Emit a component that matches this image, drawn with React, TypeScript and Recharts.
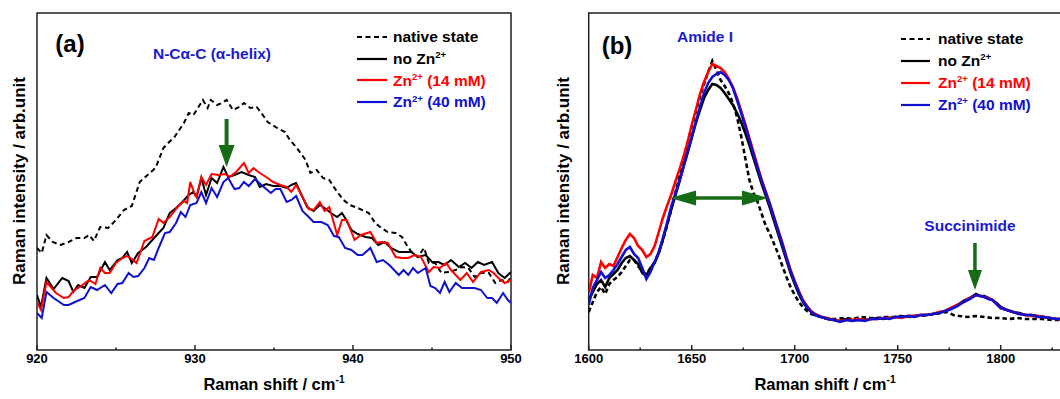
import React from 'react';
import { LineChart, Line, XAxis, YAxis, ReferenceArea, ReferenceDot, ReferenceLine } from 'recharts';

// ---------- Panel (a): N-Cα-C region ----------
const A_TICKS = [920, 925, 930, 935, 940, 945, 950];
const A_LABELED = [920, 930, 940, 950];

const nativeA: [number, number][] = [
  [920, 102], [920.3, 97], [920.6, 115], [921, 108], [921.5, 105], [922, 108], [922.5, 112], [923, 112],
  [923.3, 115], [923.6, 109], [924, 123], [924.5, 122], [925, 130], [925.5, 140], [926, 144], [926.5, 168],
  [927, 175], [927.5, 182], [928, 202], [928.3, 207], [928.7, 213], [929, 220], [929.3, 227], [929.6, 237],
  [929.9, 235], [930.1, 240], [930.5, 250], [930.8, 242], [931, 250], [931.4, 245], [931.7, 247], [932, 250],
  [932.4, 240], [932.8, 243], [933.1, 247], [933.5, 242], [933.9, 243], [934.2, 237], [934.6, 228], [935.2, 222],
  [935.7, 218], [936, 210], [936.4, 203], [937, 190], [937.3, 177], [937.7, 180], [938.1, 172], [938.5, 170],
  [939, 158], [939.4, 150], [939.8, 145], [940.3, 142], [941, 137], [941.4, 127], [941.8, 122], [942.2, 118],
  [942.7, 117], [943.1, 113], [943.4, 105], [943.7, 98], [944.1, 93], [944.5, 102], [944.8, 87], [945.2, 87],
  [945.6, 77], [946, 78], [946.5, 80], [946.9, 83], [947.3, 82], [947.7, 73], [948.1, 77], [948.6, 77],
  [949, 67], [949.4, 70], [949.8, 68], [950, 73],
];

const noZnA: [number, number][] = [
  [920, 55], [920.25, 43], [920.6, 72], [921.05, 61], [921.6, 72], [922, 69], [922.3, 58], [922.6, 65],
  [923, 62], [923.4, 73], [923.8, 73], [924.3, 88], [924.6, 80], [925.1, 90], [925.4, 92], [925.7, 98],
  [926, 87], [926.4, 97], [926.9, 103], [927.3, 110], [927.7, 117], [928, 122], [928.4, 137], [928.8, 142],
  [929.2, 148], [929.6, 155], [929.9, 158], [930.1, 153], [930.4, 172], [930.7, 155], [931.05, 172], [931.4, 167],
  [931.8, 183], [932.1, 173], [932.5, 175], [932.95, 178], [933.4, 175], [933.8, 173], [934.1, 163], [934.5, 166],
  [934.95, 164], [935.4, 164], [935.8, 162], [936.1, 165], [936.4, 167], [936.8, 153], [937.1, 143], [937.5, 139],
  [937.9, 145], [938.2, 142], [938.6, 137], [939, 133], [939.3, 137], [939.5, 132], [939.9, 120], [940.3, 116],
  [940.8, 113], [941.2, 112], [941.6, 105], [942, 108], [942.4, 102], [942.9, 98], [943.3, 98], [943.7, 98],
  [944.1, 93], [944.6, 95], [945, 88], [945.4, 88], [945.8, 85], [946.2, 90], [946.7, 83], [947.1, 87],
  [947.5, 82], [947.9, 88], [948.3, 85], [948.8, 88], [949.2, 77], [949.6, 72], [950, 78],
];

const zn14A: [number, number][] = [
  [920, 48], [920.25, 40], [920.6, 68], [921.2, 57], [921.7, 52], [922, 53], [922.3, 59], [922.7, 63],
  [923.3, 70], [923.7, 66], [924, 82], [924.3, 77], [924.6, 77], [925, 87], [925.4, 92], [925.7, 94],
  [926, 91], [926.3, 87], [926.8, 109], [927.3, 113], [927.7, 131], [928, 127], [928.4, 133], [928.9, 143],
  [929.3, 149], [929.5, 147], [929.7, 168], [930, 155], [930.1, 153], [930.4, 173], [930.7, 165], [931.05, 176],
  [931.5, 175], [931.9, 176], [932.2, 173], [932.6, 178], [933.1, 187], [933.4, 177], [933.7, 182], [934.1, 177],
  [934.5, 173], [934.95, 168], [935.4, 165], [935.8, 163], [936.1, 158], [936.4, 165], [936.8, 153], [937.2, 141],
  [937.5, 140], [937.9, 148], [938.2, 139], [938.5, 143], [939, 115], [939.3, 130], [939.6, 130], [940.1, 110],
  [940.5, 115], [941.1, 118], [941.5, 107], [941.8, 108], [942.2, 107], [942.7, 93], [943.1, 92], [943.5, 92],
  [943.9, 95], [944.3, 93], [944.8, 78], [945.1, 83], [945.5, 82], [945.9, 87], [946.2, 80], [946.8, 70],
  [947.2, 77], [947.6, 68], [948.1, 78], [948.6, 80], [948.9, 77], [949.2, 72], [949.6, 67], [950, 70],
];

const zn40A: [number, number][] = [
  [920, 37], [920.3, 32], [920.6, 58], [921.05, 52], [921.7, 45], [922, 45], [922.4, 48], [923, 52],
  [923.4, 63], [923.8, 60], [924.3, 65], [924.7, 57], [925.1, 66], [925.4, 67], [925.8, 77], [926.1, 73],
  [926.4, 74], [926.8, 82], [927.1, 92], [927.4, 90], [927.7, 102], [928.1, 117], [928.4, 118], [928.8, 127],
  [929.1, 138], [929.4, 133], [929.7, 145], [930.1, 147], [930.4, 158], [930.7, 147], [931.05, 162], [931.4, 153],
  [931.8, 168], [932.1, 172], [932.5, 161], [932.8, 162], [933.1, 168], [933.4, 164], [933.8, 171], [934.2, 165],
  [934.8, 157], [935.1, 161], [935.4, 161], [935.8, 148], [936.1, 150], [936.4, 154], [936.8, 139], [937.2, 133],
  [937.5, 128], [938, 128], [938.4, 125], [938.8, 114], [939.1, 113], [939.5, 102], [939.9, 100], [940.3, 95],
  [940.6, 95], [941.1, 102], [941.5, 88], [941.9, 90], [942.3, 85], [942.9, 75], [943.2, 80], [943.5, 75],
  [943.8, 82], [944.1, 77], [944.6, 82], [944.9, 64], [945.2, 62], [945.5, 57], [945.8, 68], [946.1, 58],
  [946.5, 67], [946.9, 62], [947.3, 62], [947.7, 62], [948.1, 60], [948.5, 52], [948.8, 52], [949.1, 47],
  [949.5, 57], [949.8, 50], [950, 47],
];

// ---------- Panel (b): Amide I / succinimide region ----------
const B_TICKS = [1600, 1625, 1650, 1675, 1700, 1725, 1750, 1775, 1800, 1825];
const B_LABELED = [1600, 1650, 1700, 1750, 1800];

const nativeB: [number, number][] = [
  [1600, 38], [1602, 48], [1604, 58], [1606, 63], [1608, 56], [1610, 66], [1612, 70], [1614, 73], [1616, 78],
  [1618, 84], [1620, 90], [1622, 90], [1624, 84], [1626, 78], [1628, 76], [1630, 82], [1632, 88], [1634, 97],
  [1636, 110], [1638, 124], [1640, 140], [1642, 157], [1644, 173], [1646, 190], [1648, 207], [1650, 223],
  [1652, 238], [1654, 253], [1656, 266], [1658, 278], [1660, 289], [1662, 280], [1664, 270], [1666, 264],
  [1668, 257], [1670, 247], [1672, 233], [1674, 214], [1676, 192], [1678, 170], [1680, 157], [1682, 148],
  [1684, 136], [1686, 124], [1688, 116], [1690, 106], [1692, 96], [1694, 84], [1696, 73], [1698, 63],
  [1700, 55], [1702, 48], [1704, 43], [1706, 39], [1708, 36], [1711, 34], [1714, 32], [1717, 31], [1720, 31],
  [1724, 32], [1728, 31], [1732, 33], [1736, 32], [1740, 32], [1744, 33], [1748, 33], [1752, 34], [1756, 33],
  [1760, 34], [1764, 35], [1768, 36], [1771, 37], [1774, 38], [1777, 35], [1780, 34], [1784, 33], [1788, 34],
  [1792, 33], [1796, 32], [1800, 32], [1804, 31], [1808, 32], [1812, 31], [1816, 31], [1820, 31], [1825, 30],
  [1830, 30],
];

const noZnB: [number, number][] = [
  [1600, 50], [1602, 58], [1604, 66], [1606, 70], [1608, 63], [1610, 72], [1612, 76], [1614, 80], [1616, 87],
  [1618, 92], [1620, 94], [1622, 90], [1624, 86], [1626, 77], [1628, 74], [1630, 82], [1632, 87], [1634, 97],
  [1636, 110], [1638, 125], [1640, 140], [1642, 154], [1644, 168], [1646, 183], [1648, 197], [1650, 212],
  [1652, 227], [1654, 240], [1656, 252], [1658, 260], [1660, 266], [1662, 265], [1664, 262], [1666, 257],
  [1668, 251], [1670, 245], [1672, 237], [1674, 228], [1676, 217], [1678, 205], [1680, 192], [1682, 179],
  [1684, 166], [1686, 154], [1688, 142], [1690, 129], [1692, 116], [1694, 103], [1696, 90], [1698, 77],
  [1700, 66], [1702, 56], [1704, 48], [1706, 42], [1708, 38], [1710, 35], [1713, 33], [1716, 31], [1719, 30],
  [1722, 29], [1725, 31], [1728, 30], [1731, 30], [1734, 30], [1737, 31], [1740, 32], [1743, 31], [1746, 32],
  [1749, 33], [1752, 33], [1755, 34], [1758, 34], [1761, 35], [1764, 35], [1767, 36], [1770, 37], [1773, 39],
  [1776, 42], [1779, 45], [1782, 49], [1785, 52], [1788, 56], [1790, 54], [1792, 54], [1794, 52], [1796, 50],
  [1798, 47], [1800, 43], [1803, 40], [1806, 38], [1809, 37], [1812, 35], [1815, 35], [1818, 34], [1821, 33],
  [1824, 32], [1827, 31], [1830, 31],
];

const zn14B: [number, number][] = [
  [1600, 57], [1602, 75], [1604, 72], [1606, 88], [1608, 82], [1610, 86], [1612, 84], [1614, 93], [1616, 102],
  [1618, 110], [1620, 116], [1622, 112], [1624, 104], [1626, 100], [1628, 93], [1630, 96], [1632, 104],
  [1634, 118], [1636, 132], [1638, 144], [1640, 155], [1642, 168], [1644, 180], [1646, 193], [1648, 208],
  [1650, 225], [1652, 240], [1654, 256], [1656, 268], [1658, 278], [1660, 286], [1662, 284], [1664, 282],
  [1666, 278], [1668, 271], [1670, 263], [1672, 252], [1674, 239], [1676, 226], [1678, 212], [1680, 198],
  [1682, 184], [1684, 170], [1686, 158], [1688, 146], [1690, 133], [1692, 120], [1694, 107], [1696, 93],
  [1698, 80], [1700, 69], [1702, 59], [1704, 50], [1706, 44], [1708, 39], [1710, 36], [1713, 33], [1716, 32],
  [1719, 30], [1722, 29], [1725, 30], [1728, 30], [1731, 31], [1734, 30], [1737, 31], [1740, 31], [1743, 32],
  [1746, 32], [1749, 33], [1752, 32], [1755, 34], [1758, 34], [1761, 35], [1764, 35], [1767, 36], [1770, 38],
  [1773, 39], [1776, 42], [1779, 45], [1782, 48], [1785, 52], [1788, 55], [1790, 54], [1792, 53], [1794, 52],
  [1796, 50], [1798, 46], [1800, 42], [1803, 40], [1806, 38], [1809, 36], [1812, 35], [1815, 34], [1818, 34],
  [1821, 33], [1824, 32], [1827, 31], [1830, 31],
];

const zn40B: [number, number][] = [
  [1600, 45], [1602, 62], [1604, 70], [1606, 78], [1608, 72], [1610, 75], [1612, 80], [1614, 86], [1616, 93],
  [1618, 100], [1620, 103], [1622, 96], [1624, 92], [1626, 82], [1628, 71], [1630, 78], [1632, 88], [1634, 98],
  [1636, 112], [1638, 127], [1640, 143], [1642, 156], [1644, 169], [1646, 183], [1648, 198], [1650, 213],
  [1652, 228], [1654, 243], [1656, 257], [1658, 267], [1660, 273], [1662, 276], [1664, 278], [1666, 275],
  [1668, 270], [1670, 262], [1672, 250], [1674, 237], [1676, 224], [1678, 210], [1680, 196], [1682, 182],
  [1684, 169], [1686, 157], [1688, 145], [1690, 132], [1692, 119], [1694, 106], [1696, 92], [1698, 79],
  [1700, 68], [1702, 58], [1704, 49], [1706, 43], [1708, 38], [1710, 35], [1713, 33], [1716, 31], [1719, 30],
  [1722, 28], [1725, 30], [1728, 29], [1731, 30], [1734, 29], [1737, 31], [1740, 31], [1743, 32], [1746, 31],
  [1749, 33], [1752, 33], [1755, 34], [1758, 33], [1761, 35], [1764, 35], [1767, 36], [1770, 37], [1773, 39],
  [1776, 41], [1779, 44], [1782, 48], [1785, 51], [1788, 55], [1790, 54], [1792, 53], [1794, 51], [1796, 50],
  [1798, 46], [1800, 42], [1803, 40], [1806, 38], [1809, 36], [1812, 35], [1815, 35], [1818, 33], [1821, 33],
  [1824, 32], [1827, 31], [1830, 31],
];

const Y_DOMAIN: [number, number] = [0, 337];
const LEGEND = [
  { key: 'native', base: 'native state', sup: '', tail: '', color: '#000', dash: '5 3.5' },
  { key: 'nozn', base: 'no Zn', sup: '2+', tail: '', color: '#000', dash: '' },
  { key: 'zn14', base: 'Zn', sup: '2+', tail: ' (14 mM)', color: '#ff0000', dash: '' },
  { key: 'zn40', base: 'Zn', sup: '2+', tail: ' (40 mM)', color: '#1010d0', dash: '' },
];

const FONT = '"Liberation Sans", Arial, Helvetica, sans-serif';
const GREEN = '#166b16';
const BLUE_TXT = '#1a1ad4';
const AXIS = '#222';

const pts = (arr: [number, number][]) => arr.map(([x, y]) => ({ x, y }));

const makeTick = (labeled: number[]) => (props: any) => {
  const { x, y, payload } = props;
  const v = payload.value;
  const major = labeled.includes(v);
  return (
    <g>
      <line x1={x} x2={x} y1={y} y2={y - (major ? 5 : 2.5)} stroke={AXIS} strokeWidth={1.5} />
      {major && (
        <text x={x} y={y + 12.5} textAnchor="middle" fontFamily={FONT} fontWeight="bold" fontSize={13} fill="#000">
          {v}
        </text>
      )}
    </g>
  );
};

const DownArrow = (shaftLen: number, headLen: number, halfW: number, shaftW: number) => (p: any) => {
  const { cx, cy } = p;
  const hy = cy - headLen;
  return (
    <g>
      <rect x={cx - shaftW / 2} y={hy - shaftLen} width={shaftW} height={shaftLen + 1} fill={GREEN} />
      <path d={`M${cx - halfW},${hy} L${cx + halfW},${hy} L${cx},${cy} Z`} fill={GREEN} />
    </g>
  );
};

const SideHead = (dir: number) => (p: any) => {
  const { cx, cy } = p;
  const len = 26;
  const hw = 7.5;
  return <path d={`M${cx},${cy} L${cx - dir * len},${cy - hw} L${cx - dir * len},${cy + hw} Z`} fill={GREEN} />;
};

const Centered = ({ x, y, children, style, rotate }: any) => (
  <div
    style={{
      position: 'absolute', left: x, top: y, whiteSpace: 'nowrap',
      transform: `translate(-50%, -50%)${rotate ? ' rotate(-90deg)' : ''}`,
      fontFamily: FONT, fontWeight: 'bold', lineHeight: 1, ...style,
    }}
  >
    {children}
  </div>
);

const Legend = ({ left, top, rowH, gap, lineW }: any) => (
  <div style={{ position: 'absolute', left, top }}>
    {LEGEND.map((it, i) => (
      <div key={it.key} style={{ position: 'absolute', left: 0, top: i * rowH - 10, height: 20, display: 'flex', alignItems: 'center', whiteSpace: 'nowrap' }}>
        <svg width={lineW} height={4} style={{ display: 'block' }}>
          <line x1={0} x2={lineW} y1={2} y2={2} stroke={it.color} strokeWidth={2.2} strokeDasharray={it.dash || undefined} />
        </svg>
        <span style={{ marginLeft: gap, color: it.color, fontFamily: FONT, fontWeight: 'bold', fontSize: 15.5, lineHeight: 1 }}>
          {it.base}
          {it.sup && <span style={{ fontSize: '0.62em', position: 'relative', top: '-0.6em' }}>{it.sup}</span>}
          {it.tail}
        </span>
      </div>
    ))}
  </div>
);

const series = (n: [number, number][], z0: [number, number][], z14: [number, number][], z40: [number, number][], w: number, dash: string) => [
  <Line key="n" data={pts(n)} dataKey="y" type="linear" stroke="#000" strokeWidth={w} strokeDasharray={dash} dot={false} isAnimationActive={false} />,
  <Line key="z0" data={pts(z0)} dataKey="y" type="linear" stroke="#000" strokeWidth={w} dot={false} isAnimationActive={false} />,
  <Line key="z14" data={pts(z14)} dataKey="y" type="linear" stroke="#ff0000" strokeWidth={w} dot={false} isAnimationActive={false} />,
  <Line key="z40" data={pts(z40)} dataKey="y" type="linear" stroke="#1010d0" strokeWidth={w} dot={false} isAnimationActive={false} />,
];

const xTitle = (
  <>
    Raman shift / cm<span style={{ fontSize: '0.62em', position: 'relative', top: '-0.6em' }}>-1</span>
  </>
);

export default function App() {
  return (
    <div style={{ position: 'fixed', left: 0, top: 0, width: 1060, height: 399, overflow: 'hidden', background: '#fff' }}>
      {/* Panel (a) */}
      <div style={{ position: 'absolute', left: 0, top: 0 }}>
        <LineChart width={530} height={399} margin={{ top: 13, right: 19, bottom: 0, left: 37 }}>
          <XAxis dataKey="x" type="number" domain={[920, 950]} ticks={A_TICKS} allowDataOverflow height={49}
            axisLine={false} tickLine={false} tickSize={0} tickMargin={0} tick={makeTick(A_LABELED)} interval={0} />
          <YAxis type="number" domain={Y_DOMAIN} allowDataOverflow hide />
          {series(nativeA, noZnA, zn14A, zn40A, 2, '5 3.5')}
          <ReferenceArea x1={920} x2={950} y1={0} y2={337} fill="none" fillOpacity={0} stroke={AXIS} strokeWidth={1.5} />
          <ReferenceDot x={932} y={183} r={0} shape={DownArrow(26, 22, 8, 4)} />
        </LineChart>
      </div>
      {/* Panel (b) */}
      <div style={{ position: 'absolute', left: 530, top: 0 }}>
        <LineChart width={540} height={399} margin={{ top: 13, right: 7.5, bottom: 0, left: 58.7 }}>
          <XAxis dataKey="x" type="number" domain={[1600, 1830]} ticks={B_TICKS} allowDataOverflow height={49}
            axisLine={false} tickLine={false} tickSize={0} tickMargin={0} tick={makeTick(B_LABELED)} interval={0} />
          <YAxis type="number" domain={Y_DOMAIN} allowDataOverflow hide />
          {series(nativeB, noZnB, zn14B, zn40B, 2.6, '4.5 3')}
          <ReferenceArea x1={1600} x2={1830} y1={0} y2={337} fill="none" fillOpacity={0} stroke={AXIS} strokeWidth={1.5} />
          <ReferenceLine segment={[{ x: 1649, y: 152 }, { x: 1677, y: 152 }]} stroke={GREEN} strokeWidth={3.5} />
          <ReferenceDot x={1639.5} y={152} r={0} shape={SideHead(-1)} />
          <ReferenceDot x={1687} y={152} r={0} shape={SideHead(1)} />
          <ReferenceDot x={1787.5} y={60} r={0} shape={DownArrow(27, 20, 7, 3.5)} />
        </LineChart>
      </div>

      {/* Panel (a) texts */}
      <Centered x={70} y={44} style={{ fontSize: 24 }}>(a)</Centered>
      <Centered x={212} y={54} style={{ fontSize: 15.5, color: BLUE_TXT }}>N-Cα-C (α-helix)</Centered>
      <Centered x={19} y={181} rotate style={{ fontSize: 17 }}>Raman intensity / arb.unit</Centered>
      <Centered x={274} y={383.5} style={{ fontSize: 16.5 }}>{xTitle}</Centered>
      <Legend left={357} top={37} rowH={21.7} gap={6} lineW={30} />

      {/* Panel (b) texts */}
      <Centered x={617} y={46} style={{ fontSize: 24 }}>(b)</Centered>
      <Centered x={705} y={37} style={{ fontSize: 15.5, color: BLUE_TXT }}>Amide I</Centered>
      <Centered x={970} y={226} style={{ fontSize: 15.5, color: BLUE_TXT }}>Succinimide</Centered>
      <Centered x={563} y={181} rotate style={{ fontSize: 17 }}>Raman intensity / arb.unit</Centered>
      <Centered x={825} y={383.5} style={{ fontSize: 16.5 }}>{xTitle}</Centered>
      <Legend left={901} top={39} rowH={22} gap={8} lineW={29} />
    </div>
  );
}
